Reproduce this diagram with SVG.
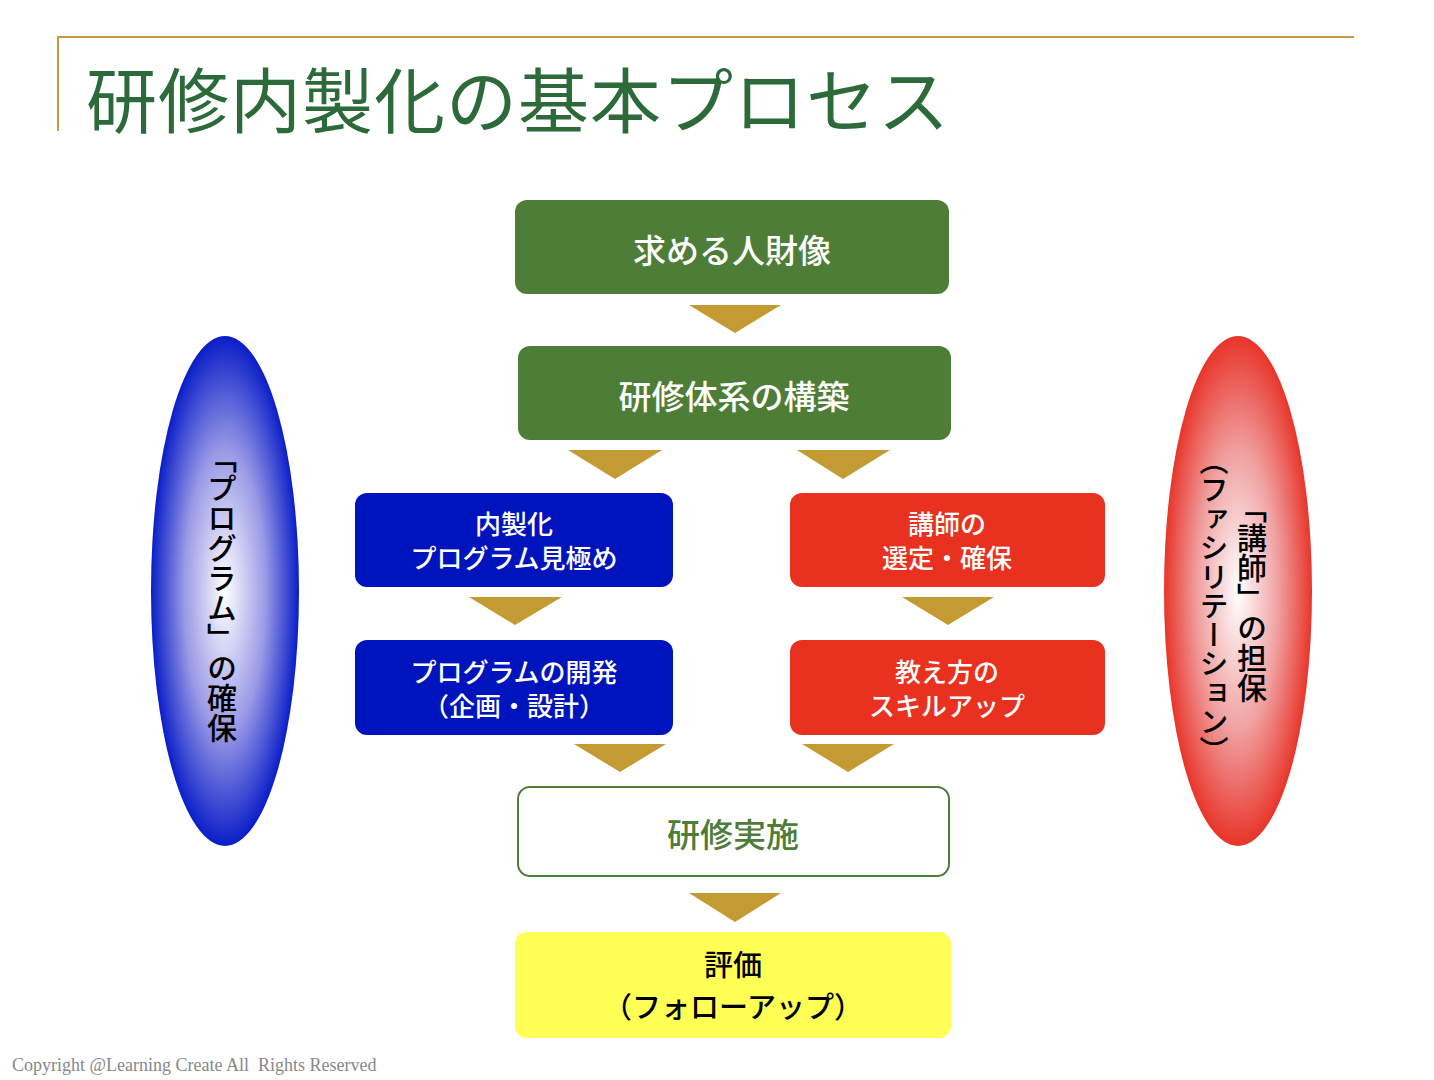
<svg xmlns="http://www.w3.org/2000/svg" width="1434" height="1080" viewBox="0 0 1434 1080">
<style>
.j{font-family:"Noto Sans CJK JP","Noto Sans",sans-serif;text-anchor:middle;font-weight:500}
.w{fill:#fff;font-size:26px}
.big{font-size:33px}
.arr{fill:#c49a32}
</style>
<defs>
<radialGradient id="gb" cx="0.5" cy="0.5" r="0.5"><stop offset="0" stop-color="#ffffff"/><stop offset="0.55" stop-color="#9a9ae6"/><stop offset="1" stop-color="#0a1ec8"/></radialGradient>
<radialGradient id="gr" cx="0.5" cy="0.5" r="0.5"><stop offset="0" stop-color="#ffffff"/><stop offset="0.55" stop-color="#f0a0a0"/><stop offset="1" stop-color="#e8352a"/></radialGradient>
</defs>
<rect width="1434" height="1080" fill="#fff"/>
<g id="title">
<line x1="57" y1="37" x2="1354" y2="37" stroke="#c49a48" stroke-width="2"/>
<line x1="58" y1="36" x2="58" y2="131" stroke="#c49a48" stroke-width="2"/>
<text x="86" y="127" font-family="Noto Sans CJK JP,sans-serif" font-size="71" letter-spacing="1" fill="#2d6a3a">研修内製化の基本プロセス</text>
</g>
<g id="left">
<ellipse cx="225" cy="591" rx="74" ry="255" fill="url(#gb)"/>
<text x="222" y="443" class="j" style="writing-mode:vertical-rl;text-anchor:start" font-size="30">「プログラム」の確保</text>
</g>
<g id="right">
<ellipse cx="1238" cy="591" rx="74" ry="255" fill="url(#gr)"/>
<text x="1252" y="493" class="j" style="writing-mode:vertical-rl;text-anchor:start" font-size="30">「講師」の担保</text>
<text x="1214" y="446" class="j" style="writing-mode:vertical-rl;text-anchor:start" font-size="29">（ファシリテーション）</text>
</g>
<g id="connectors">
<polygon class="arr" points="689,305 781,305 735,333"/>
<polygon class="arr" points="568,450 662,450 615,479"/>
<polygon class="arr" points="797,450 890,450 843,479"/>
<polygon class="arr" points="469,597 562,597 515,625"/>
<polygon class="arr" points="902,597 994,597 948,625"/>
<polygon class="arr" points="574,744 666,744 620,772"/>
<polygon class="arr" points="802,744 894,744 848,772"/>
<polygon class="arr" points="689,893 781,893 735,922"/>
</g>
<g id="n1"><rect x="515" y="200" width="434" height="94" rx="12" fill="#4e7d38"/><text x="732" y="263" class="j w big">求める人財像</text></g>
<g id="n2"><rect x="518" y="346" width="433" height="94" rx="12" fill="#4e7d38"/><text x="734" y="409" class="j w big">研修体系の構築</text></g>
<g id="n3"><rect x="355" y="493" width="318" height="94" rx="12" fill="#0014bd"/><text x="514" y="534" class="j w">内製化</text><text x="514" y="568" class="j w">プログラム見極め</text></g>
<g id="n4"><rect x="790" y="493" width="315" height="94" rx="12" fill="#e8321f"/><text x="947" y="534" class="j w">講師の</text><text x="947" y="568" class="j w">選定・確保</text></g>
<g id="n5"><rect x="355" y="640" width="318" height="95" rx="12" fill="#0014bd"/><text x="514" y="682" class="j w">プログラムの開発</text><text x="514" y="716" class="j w">（企画・設計）</text></g>
<g id="n6"><rect x="790" y="640" width="315" height="95" rx="12" fill="#e8321f"/><text x="947" y="682" class="j w">教え方の</text><text x="947" y="716" class="j w">スキルアップ</text></g>
<g id="n7"><rect x="518" y="787" width="431" height="89" rx="12" fill="#fff" stroke="#4e7d38" stroke-width="2"/><text x="733" y="847" class="j big" fill="#4e7d38">研修実施</text></g>
<g id="n8"><rect x="515" y="932" width="436" height="106" rx="12" fill="#ffff55"/><text x="733" y="976" class="j" font-size="29" fill="#000">評価</text><text x="733" y="1018" class="j" font-size="29" fill="#000">（フォローアップ）</text></g>
<text x="12" y="1071" font-family="Liberation Serif,serif" font-size="18" fill="#888" xml:space="preserve">Copyright @Learning Create All  Rights Reserved</text>
</svg>
